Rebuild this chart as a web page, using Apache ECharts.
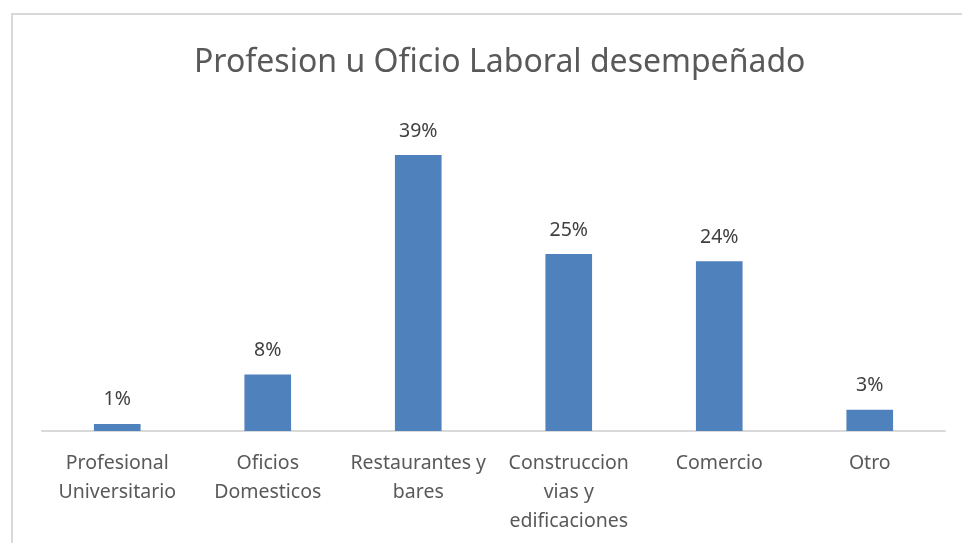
<!DOCTYPE html>
<html>
<head>
<meta charset="utf-8">
<title>Profesion u Oficio Laboral desempeñado</title>
<script src="https://cdn.jsdelivr.net/npm/echarts@6/dist/echarts.min.js"></script>
<style>
    html, body { margin: 0; padding: 0; background: #fff; }
    #chart { width: 962px; height: 543px; }
</style>
</head>
<body>
<div id="chart"></div>
<script>
    // datos del grafico
    var chartTitle = 'Profesion u Oficio Laboral desempeñado';
    var categorias = ['Profesional\nUniversitario', 'Oficios\nDomesticos', 'Restaurantes y\nbares', 'Construccion\nvias y\nedificaciones', 'Comercio', 'Otro'];
    var porcentajes = [1, 8, 39, 25, 24, 3];

    var chart = echarts.init(document.getElementById('chart'));
    var option = {
        animation: false,
        graphic: [{
            type: 'rect',
            shape: { x: 12, y: 14, width: 1000, height: 600 },
            style: { fill: 'none', stroke: '#d9d9d9', lineWidth: 2 },
            silent: true
        }],
        title: {
            text: chartTitle,
            left: 189,
            top: 42,
            textStyle: {
                fontFamily: 'Noto Sans',
                fontSize: 32,
                fontWeight: 'normal',
                color: '#595959'
            }
        },
        grid: {
            left: 42,
            right: 17,
            top: 112.5,
            bottom: 112
        },
        xAxis: {
            type: 'category',
            data: categorias,
            axisTick: { show: false },
            axisLine: { lineStyle: { color: '#d9d9d9', width: 2 } },
            axisLabel: {
                interval: 0,
                margin: 18,
                fontFamily: 'Noto Sans',
                fontSize: 19.5,
                lineHeight: 29,
                color: '#595959'
            }
        },
        yAxis: {
            type: 'value',
            min: 0,
            max: 45,
            show: false
        },
        series: [{
            type: 'bar',
            data: porcentajes,
            barWidth: '31%',
            itemStyle: { color: '#4f81bd' },
            label: {
                show: true,
                position: 'top',
                distance: 14,
                formatter: '{c}%',
                fontFamily: 'Noto Sans',
                fontSize: 19.5,
                color: '#404040'
            }
        }]
    };
    chart.setOption(option);
</script>
</body>
</html>
